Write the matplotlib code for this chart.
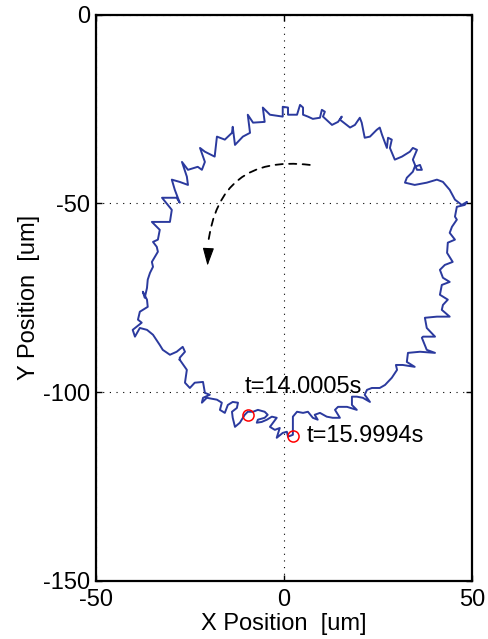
import matplotlib.pyplot as plt

plt.rcParams['font.family'] = ['Liberation Sans', 'DejaVu Sans']
plt.rcParams['axes.unicode_minus'] = False

# Bead trajectory (um), traced counter-clockwise starting at the lower left
x_pos = [
    -27.7, -25.8, -26.3, -25.0, -23.7, -21.5, -21.0, -19.7, -21.5, -21.8,
    -20.5, -17.8, -16.5, -17.0, -15.7, -14.9, -13.6, -12.2, -12.5, -13.8,
    -13.6, -13.0, -11.7, -10.4, -9.6, -8.2, -6.9, -5.1, -4.3, -5.1,
    -6.9, -7.2, -5.9, -4.5, -3.2, -1.9, -3.7, -2.4, -1.1, -1.9,
    -0.3, 0.8, 1.1, 2.4,
    2.4, 3.5, 5.1, 6.4, 7.7, 9.0, 8.2, 9.6, 11.4, 13.0,
    14.9, 13.6, 14.4, 16.8, 19.4, 18.1, 18.1, 19.4, 21.0, 22.9,
    21.5, 22.1, 23.4, 25.5, 26.9, 28.7,
    30.1, 29.8, 31.6, 34.8, 32.7, 33.0, 36.2, 40.2, 38.0, 36.7,
    37.0, 40.2, 38.0, 37.5, 40.7, 44.1, 42.0, 42.3, 43.6, 41.5,
    42.0, 44.1, 42.3, 41.5, 42.8, 44.9, 43.4, 43.6, 45.5, 44.1,
    44.7, 46.0, 45.5, 46.0, 48.1, 48.7, 47.3, 45.5, 44.1, 42.3,
    40.7, 38.0, 34.8, 32.2, 32.7, 34.3, 34.8, 36.2, 36.7, 35.4,
    34.3, 35.4, 34.3, 33.5, 31.4, 29.5, 28.2, 28.7, 27.7, 27.4,
    26.1, 25.5, 24.7, 22.9, 21.5, 20.7, 20.2, 18.9, 17.6, 14.9,
    15.4, 14.4, 12.8, 10.4, 10.9, 10.1, 9.6, 7.7, 6.4, 5.1,
    5.1, 4.3, 3.5, 1.1, 1.1, -0.3, -0.3, -3.7,
    -5.6, -5.1, -8.2, -9.6, -9.0, -10.9, -13.0, -13.6, -13.8, -15.7,
    -17.8, -18.4, -21.0, -22.3, -21.0, -21.8, -22.9, -25.5, -27.1, -25.8,
    -25.5, -27.7, -29.8, -29.0, -27.7, -28.5, -32.4, -29.8, -30.3, -32.4,
    -35.1, -33.0, -33.5,
    -34.8, -33.8, -33.5, -35.1, -34.8, -35.6, -36.2, -36.4, -37.0, -37.5,
    -36.4, -36.2, -38.3, -38.8, -37.8, -40.2, -39.6, -38.3, -36.4, -34.8,
    -33.0, -32.2, -30.3, -28.5, -26.9, -26.3, -27.7, -27.7,
]
y_pos = [
    -91.4, -94.1, -97.5, -98.9, -97.5, -97.3, -100.2, -100.7, -101.5, -102.8,
    -101.5, -102.0, -102.8, -104.7, -105.5, -103.4, -102.6, -102.8, -104.2, -105.2,
    -106.8, -109.2, -108.1, -106.0, -105.2, -105.2, -104.7, -105.2, -106.0, -106.8,
    -107.3, -108.1, -107.9, -107.3, -106.5, -106.8, -109.2, -110.0, -109.5, -112.1,
    -110.8, -110.5, -111.8, -111.3,
    -106.5, -105.2, -105.5, -105.2, -106.8, -107.3, -106.0, -105.5, -106.5, -106.8,
    -106.8, -104.7, -103.9, -103.9, -104.7, -103.4, -101.2, -101.2, -101.5, -102.6,
    -100.7, -99.4, -98.9, -98.9, -98.1, -96.2,
    -94.1, -92.8, -92.8, -93.3, -92.0, -89.6, -89.3, -89.6, -88.8, -85.6,
    -85.3, -85.3, -83.0, -80.3, -80.0, -80.0, -78.2, -76.9, -75.5, -74.2,
    -71.6, -70.8, -69.7, -67.6, -66.3, -65.5, -63.1, -60.4, -59.6, -57.8,
    -56.2, -54.3, -53.5, -50.9, -50.4, -49.6, -50.4, -49.0, -46.4, -44.3,
    -43.7, -44.5, -45.1, -44.5, -43.2, -41.6, -40.3, -39.8, -41.1, -41.1,
    -38.4, -35.8, -35.3, -36.3, -37.6, -38.4, -35.3, -33.1, -32.6, -35.3,
    -31.8, -29.9, -30.5, -32.3, -32.6, -28.6, -27.3, -29.2, -29.9, -27.8,
    -27.0, -28.4, -29.2, -27.0, -25.7, -25.2, -27.3, -27.6, -27.0, -26.5,
    -24.6, -23.9, -26.5, -26.5, -24.6, -24.4, -27.0, -26.5,
    -24.6, -28.4, -28.6, -26.5, -31.3, -32.3, -34.5, -29.7, -31.3, -33.1,
    -32.3, -37.6, -36.3, -35.3, -39.0, -41.1, -40.3, -41.1, -39.0, -42.9,
    -45.1, -44.3, -43.7, -46.4, -49.8, -48.5, -48.5, -51.7, -54.9, -54.9,
    -54.9, -57.0, -59.6,
    -60.2, -61.5, -62.8, -65.5, -66.8, -68.4, -70.2, -72.4, -75.0, -73.4,
    -75.5, -77.4, -78.7, -80.8, -81.6, -83.5, -85.3, -83.0, -83.5, -84.8,
    -87.5, -88.8, -90.1, -89.3, -88.0, -89.3, -90.9, -91.4,
]

# Positions at the two marked time stamps
mark_times = ['t=14.0005s', 't=15.9994s']
mark_x = [-9.6, 2.4]
mark_y = [-106.0, -111.6]

fig = plt.figure(figsize=(4.89, 6.39), dpi=100)
ax = fig.add_axes([0.196, 0.091, 0.769, 0.886])

ax.plot(x_pos, y_pos, color='#2b3a9e', lw=1.4)
ax.plot(mark_x, mark_y, 'o', mfc='none', mec='red', ms=8, mew=1.1)

ax.text(-10.4, -100.2, mark_times[0], fontsize=17, va='baseline', ha='left')
ax.text(6.1, -113.2, mark_times[1], fontsize=17, va='baseline', ha='left')

# direction of rotation: dashed arc plus a filled head
ax.annotate('', xy=(-20.2, -61.0), xytext=(6.9, -39.8),
            arrowprops=dict(arrowstyle='-', linestyle=(0, (4, 3.5)), lw=1.3,
                            color='black', connectionstyle='arc3,rad=0.5',
                            shrinkA=0, shrinkB=0))
ax.annotate('', xy=(-20.3, -66.5), xytext=(-20.1, -62.5),
            arrowprops=dict(arrowstyle='-|>,head_length=1.1,head_width=0.35',
                            lw=0.8, color='black', shrinkA=0, shrinkB=0))

ax.set_xlim(-50, 50)
ax.set_ylim(-150, 0)
ax.set_xticks([-50, 0, 50])
ax.set_yticks([0, -50, -100, -150])
ax.grid(True, color='black', linestyle=(0, (1, 5)), lw=0.8)

for s in ax.spines.values():
    s.set_linewidth(1.6)
ax.tick_params(direction='in', length=4, width=1, labelsize=17,
               top=True, right=True)
ax.tick_params(axis='x', pad=6)
ax.tick_params(axis='y', pad=4)

ax.set_xlabel('X Position  [um]', fontsize=17, labelpad=1)
ax.set_ylabel('Y Position  [um]', fontsize=17, labelpad=2)

fig.savefig('out.png', dpi=100)
